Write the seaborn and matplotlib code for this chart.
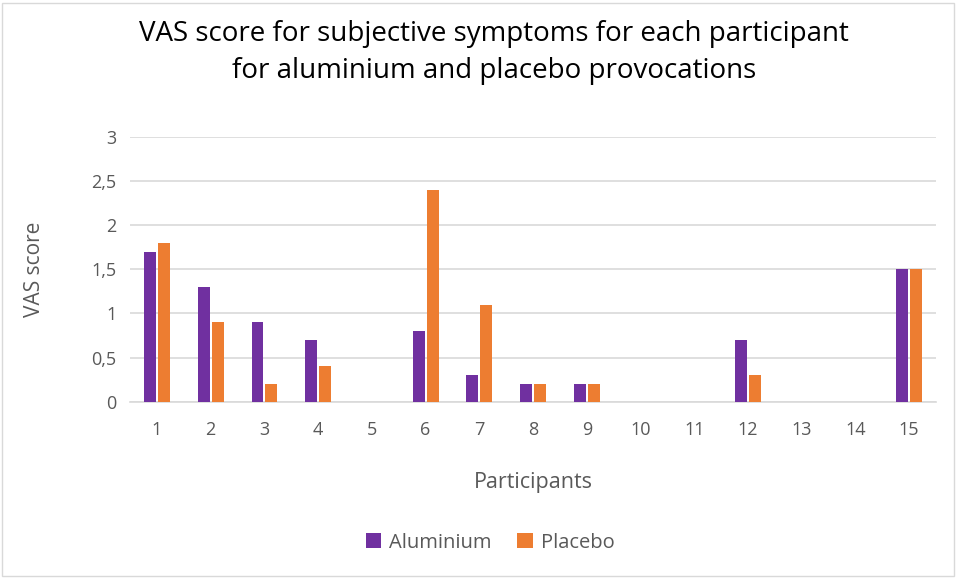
import pandas as pd
import matplotlib.pyplot as plt
import seaborn as sns
from matplotlib.patches import Rectangle

participants = list(range(1, 16))
aluminium = [1.7, 1.3, 0.9, 0.7, 0, 0.8, 0.3, 0.2, 0.2, 0, 0, 0.7, 0, 0, 1.5]
placebo = [1.8, 0.9, 0.2, 0.4, 0, 2.4, 1.1, 0.2, 0.2, 0, 0, 0.3, 0, 0, 1.5]
yticks = [0, 0.5, 1, 1.5, 2, 2.5, 3]
ytick_labels = ['0', '0,5', '1', '1,5', '2', '2,5', '3']

df = pd.DataFrame({
    'Participant': [str(p) for p in participants] * 2,
    'VAS': aluminium + placebo,
    'Provocation': ['Aluminium'] * 15 + ['Placebo'] * 15,
})

sns.set_style('white')
plt.rcParams['font.family'] = ['Open Sans', 'DejaVu Sans']
grey = '#595959'

fig = plt.figure(figsize=(9.57, 5.78), dpi=100)
ax = fig.add_axes([0.136, 0.305, 0.842, 0.458])

sns.barplot(data=df, x='Participant', y='VAS', hue='Provocation',
            palette={'Aluminium': '#7030A0', 'Placebo': '#ED7D31'},
            width=0.52, gap=0.15, saturation=1, linewidth=0, ax=ax, zorder=3)

ax.set_ylim(0, 3)
ax.set_yticks(yticks)
ax.set_yticklabels(ytick_labels)
ax.yaxis.grid(True, color='#D9D9D9', linewidth=1.2, zorder=0)
ax.set_axisbelow(True)
for s in ['top', 'right', 'left']:
    ax.spines[s].set_visible(False)
ax.spines['bottom'].set_color('#D9D9D9')
ax.spines['bottom'].set_linewidth(1.2)
ax.tick_params(axis='y', length=0, labelsize=13, colors=grey, pad=10)
ax.tick_params(axis='x', length=0, labelsize=13, colors=grey, pad=14)

ax.set_xlabel('Participants', fontsize=15.5, color=grey, labelpad=24)
ax.set_ylabel('VAS score', fontsize=15, color=grey, labelpad=33)

ax.legend(loc='center', bbox_to_anchor=(0.512, 0.061), bbox_transform=fig.transFigure,
          ncol=2, frameon=False, fontsize=14.5, labelcolor=grey,
          handlelength=0.75, handleheight=0.75, columnspacing=1.3, handletextpad=0.4)

fig.suptitle('VAS score for subjective symptoms for each participant\nfor aluminium and placebo provocations',
             fontsize=20, color='#000000', x=0.516, y=0.965, linespacing=1.4)

fig.patches.append(Rectangle((0.002, 0.003), 0.995, 0.992, transform=fig.transFigure,
                             fill=False, edgecolor='#D9D9D9', linewidth=1))

fig.savefig('out.png', dpi=100)
